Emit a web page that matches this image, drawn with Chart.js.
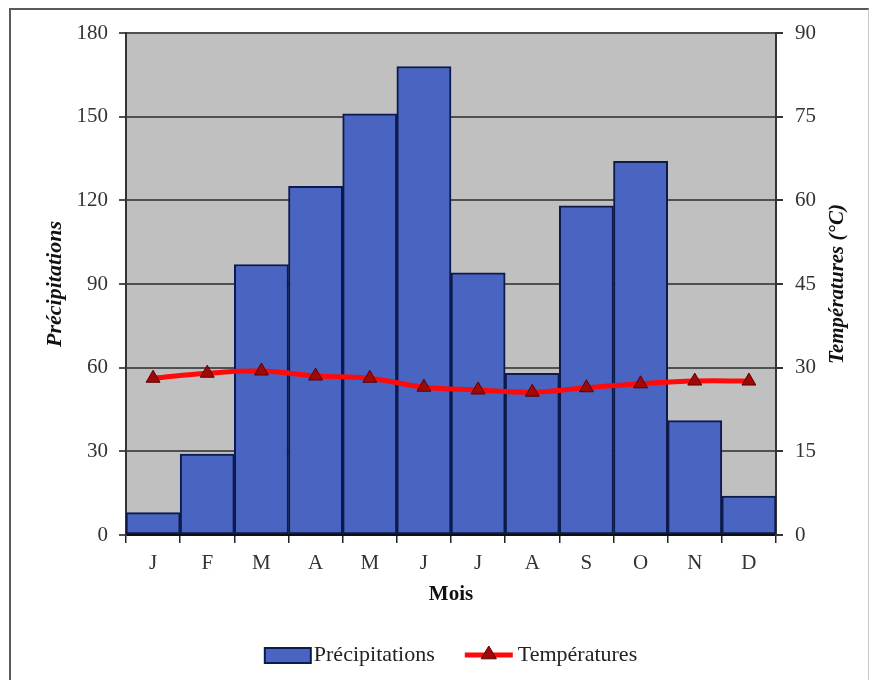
<!DOCTYPE html>
<html>
<head>
<meta charset="utf-8">
<script src="https://cdn.jsdelivr.net/npm/chart.js@4"></script>
<style>
  html, body { margin: 0; padding: 0; background: #fff; }
  #wrap { position: relative; width: 872px; height: 680px; overflow: hidden; }
  #frame { position: absolute; left: 9px; top: 8px; width: 857px; height: 700px;
           border: 2px solid #5a5a5a; border-right: 1px solid #c8c8c8; }
  canvas { position: absolute; left: 0; top: 0; }
</style>
</head>
<body>
<div id="wrap">
  <div id="frame"></div>
  <canvas id="c" width="872" height="680"></canvas>
</div>
<script>
// data
const months         = ['J', 'F', 'M', 'A', 'M', 'J', 'J', 'A', 'S', 'O', 'N', 'D'];
const precipitations = [8, 29, 97, 125, 151, 168, 94, 58, 118, 134, 41, 14];
const temperatures   = [28.1, 29.0, 29.4, 28.5, 28.1, 26.5, 26.0, 25.6, 26.4, 27.1, 27.6, 27.6];
const precipTicks    = [0, 30, 60, 90, 120, 150, 180];
const tempTicks      = [0, 15, 30, 45, 60, 75, 90];

const SERIF = '"Liberation Serif", "Times New Roman", serif';
const BAR_FILL = '#4a64c2';
const BAR_EDGE = '#0c1a4c';
const LINE_RED = '#ff0a0a';
const MARK_RED = '#a00808';
const MARK_EDGE = '#5a0000';

// gray plot background
const plotBg = {
  id: 'plotBg',
  beforeDraw(chart) {
    const { ctx, chartArea: a } = chart;
    ctx.save();
    ctx.fillStyle = '#c0c0c0';
    ctx.fillRect(a.left, a.top, a.right - a.left, a.bottom - a.top);
    ctx.restore();
  }
};

// right axis title reads bottom-to-top in the original
const rightTitle = {
  id: 'rightTitle',
  afterDraw(chart) {
    const { ctx, chartArea: a } = chart;
    ctx.save();
    ctx.translate(838, (a.top + a.bottom) / 2);
    ctx.rotate(-Math.PI / 2);
    ctx.font = 'italic bold 21px ' + SERIF;
    ctx.fillStyle = '#111';
    ctx.textAlign = 'center';
    ctx.textBaseline = 'middle';
    ctx.fillText('Températures (°C)', 0, 0);
    ctx.restore();
  }
};

function drawTriangle(ctx, x, y, r) {
  ctx.beginPath();
  ctx.moveTo(x, y - r);
  ctx.lineTo(x + r * 0.95, y + r * 0.6);
  ctx.lineTo(x - r * 0.95, y + r * 0.6);
  ctx.closePath();
  ctx.fillStyle = MARK_RED;
  ctx.fill();
  ctx.strokeStyle = MARK_EDGE;
  ctx.lineWidth = 1;
  ctx.stroke();
}

// legend in the Excel style: box / line with marker, text right after
const bottomLegend = {
  id: 'bottomLegend',
  afterDraw(chart) {
    const { ctx, chartArea: a } = chart;
    const bars = chart.data.datasets.find(d => d.type === 'bar');
    const line = chart.data.datasets.find(d => d.type === 'line');
    const y = 655;
    ctx.save();
    ctx.font = '22px ' + SERIF;
    ctx.textBaseline = 'middle';
    const w1 = ctx.measureText(bars.label).width;
    const w2 = ctx.measureText(line.label).width;
    const total = 46 + 3 + w1 + 30 + 48 + 5 + w2;
    let x = (a.left + a.right) / 2 - total / 2;

    ctx.fillStyle = bars.backgroundColor;
    ctx.fillRect(x, y - 7, 46, 15);
    ctx.strokeStyle = bars.borderColor;
    ctx.lineWidth = 2;
    ctx.strokeRect(x, y - 7, 46, 15);
    x += 49;
    ctx.fillStyle = '#222';
    ctx.fillText(bars.label, x, y);
    x += w1 + 30;

    ctx.strokeStyle = line.borderColor;
    ctx.lineWidth = 5;
    ctx.beginPath();
    ctx.moveTo(x, y);
    ctx.lineTo(x + 48, y);
    ctx.stroke();
    drawTriangle(ctx, x + 24, y - 1, 8);
    x += 53;
    ctx.fillStyle = '#222';
    ctx.fillText(line.label, x, y);
    ctx.restore();
  }
};

new Chart(document.getElementById('c').getContext('2d'), {
  type: 'bar',
  data: {
    labels: months,
    datasets: [
      {
        type: 'bar',
        label: 'Précipitations',
        data: precipitations,
        yAxisID: 'y',
        order: 1,
        backgroundColor: BAR_FILL,
        borderColor: BAR_EDGE,
        borderWidth: 2,
        borderSkipped: false,
        barPercentage: 1,
        categoryPercentage: 1
      },
      {
        type: 'line',
        label: 'Températures',
        data: temperatures,
        yAxisID: 'y1',
        order: 0,
        borderColor: LINE_RED,
        borderWidth: 5,
        tension: 0.4,
        fill: false,
        pointStyle: 'triangle',
        pointRadius: 8,
        pointBackgroundColor: MARK_RED,
        pointBorderColor: MARK_EDGE,
        pointBorderWidth: 1
      }
    ]
  },
  options: {
    responsive: false,
    animation: false,
    layout: { padding: { top: 33, left: 0, right: 0, bottom: 0 } },
    plugins: {
      legend: { display: false },
      tooltip: { enabled: false }
    },
    scales: {
      x: {
        offset: true,
        grid: { offset: true, drawOnChartArea: false, tickLength: 8, color: '#222', lineWidth: 1.5 },
        border: { color: '#111', width: 2 },
        ticks: { font: { family: SERIF, size: 21 }, color: '#333', padding: 8 },
        title: {
          display: true, text: 'Mois',
          font: { family: SERIF, size: 21, weight: 'bold' }, color: '#111',
          padding: { top: 0, bottom: 73 }
        },
        afterFit: s => { s.height = 680 - 535; }
      },
      y: {
        position: 'left',
        min: 0, max: 180,
        afterBuildTicks: s => { s.ticks = precipTicks.map(v => ({ value: v })); },
        grid: { color: '#505050', lineWidth: 2, tickLength: 7 },
        border: { color: '#333', width: 2 },
        ticks: { font: { family: SERIF, size: 21 }, color: '#333', padding: 11 },
        title: {
          display: true, text: 'Précipitations',
          font: { family: SERIF, size: 22, weight: 'bold', style: 'italic' }, color: '#111',
          padding: { top: 42, bottom: 0 }
        },
        afterFit: s => { s.width = 126; }
      },
      y1: {
        position: 'right',
        min: 0, max: 90,
        afterBuildTicks: s => { s.ticks = tempTicks.map(v => ({ value: v })); },
        grid: { drawOnChartArea: false, color: '#333', lineWidth: 2, tickLength: 7 },
        border: { color: '#333', width: 2 },
        ticks: { font: { family: SERIF, size: 21 }, color: '#333', padding: 12 },
        afterFit: s => { s.width = 872 - 776; }
      }
    }
  },
  plugins: [plotBg, rightTitle, bottomLegend]
});
</script>
</body>
</html>
